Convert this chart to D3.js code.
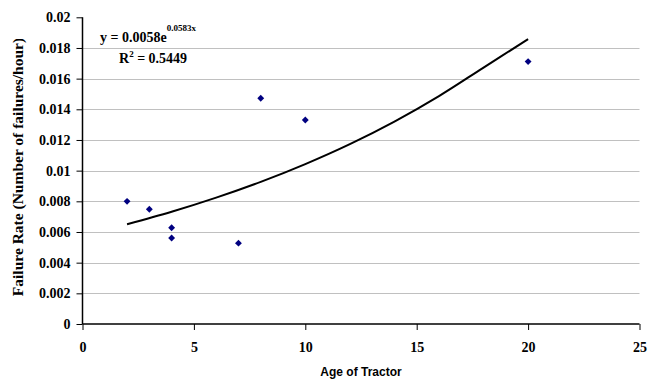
<!DOCTYPE html>
<html>
<head>
<script src="https://d3js.org/d3.v7.min.js"></script>
<style>
  body { margin: 0; background: #fff; }
  svg { display: block; }
  .grid line { stroke: #c0c0c0; stroke-width: 1; }
</style>
</head>
<body>
<div id="chart"></div>
<script>
// tractor age vs failure rate
const ages = [2, 3, 4, 4, 7, 8, 10, 20];
const rates = [0.0080, 0.00748, 0.00628, 0.00561, 0.00527, 0.01472, 0.0133, 0.01711];

// exponential trend line as drawn
const trendAges = [2, 4, 6, 8, 10, 12, 14, 16, 18, 20];
const trendRates = [0.00651, 0.00732, 0.00824, 0.00927, 0.01043, 0.01173, 0.01320, 0.01486, 0.01672, 0.01858];

const xTicks = [0, 5, 10, 15, 20, 25];
const yTicks = [0, 0.002, 0.004, 0.006, 0.008, 0.01, 0.012, 0.014, 0.016, 0.018, 0.02];

const serif = "'Liberation Serif', 'Times New Roman', serif";
const W = 648, H = 379;
const svg = d3.select("#chart").append("svg").attr("width", W).attr("height", H);

const x = d3.scaleLinear().domain([0, 25]).range([82.5, 639.5]);
const y = d3.scaleLinear().domain([0, 0.02]).range([324, 17.3]);

// gridlines
svg.append("g").attr("class", "grid")
  .selectAll("line").data(yTicks.filter(d => d > 0 && d < 0.02)).join("line")
  .attr("x1", x(0)).attr("x2", x(25))
  .attr("y1", d => Math.round(y(d)) + 0.5).attr("y2", d => Math.round(y(d)) + 0.5);

// axes
const yAxis = svg.append("g")
  .attr("transform", `translate(${x(0)},0)`)
  .call(d3.axisLeft(y).tickValues(yTicks).tickFormat(d => String(+d.toFixed(3))).tickSize(6).tickPadding(6));
const xAxis = svg.append("g")
  .attr("transform", `translate(0,${y(0)})`)
  .call(d3.axisBottom(x).tickValues(xTicks).tickSize(6).tickPadding(12));

[xAxis, yAxis].forEach(a => {
  a.attr("font-family", null).attr("font-size", null);
  a.select(".domain").attr("stroke", "#000").attr("stroke-width", 1.5);
  a.selectAll(".tick line").attr("stroke", "#000").attr("stroke-width", 1);
  a.selectAll(".tick text")
    .style("font-family", serif).style("font-weight", "bold").style("font-size", "14px").attr("fill", "#000");
});
xAxis.select(".domain").attr("d", `M${x(0)},0H${x(25)}`);
yAxis.select(".domain").attr("d", `M0,${y(0)}V${y(0.02)}`);

// trend line
const line = d3.line().x((d, i) => x(trendAges[i])).y(d => y(d)).curve(d3.curveMonotoneX);
svg.append("path").datum(trendRates)
  .attr("d", line)
  .attr("fill", "none").attr("stroke", "#000").attr("stroke-width", 2);

// points
svg.append("g").selectAll("path").data(ages).join("path")
  .attr("transform", (d, i) => `translate(${x(d)},${y(rates[i])})`)
  .attr("d", d3.symbol().type(d3.symbolDiamond2).size(30))
  .attr("fill", "#000080");

// equation labels
const eq = svg.append("text")
  .attr("x", 100).attr("y", 42)
  .style("font-family", serif).style("font-weight", "bold").style("font-size", "14px");
eq.append("tspan").text("y = 0.0058e");
eq.append("tspan").style("font-size", "9px").attr("dy", -11).text("0.0583x");

const r2 = svg.append("text")
  .attr("x", 119).attr("y", 63)
  .style("font-family", serif).style("font-weight", "bold").style("font-size", "14px");
r2.append("tspan").text("R");
r2.append("tspan").style("font-size", "9px").attr("dy", -6).text("2");
r2.append("tspan").attr("dy", 6).text(" = 0.5449");

// axis titles (the top of the y title is cut off in the original)
svg.append("clipPath").attr("id", "clipTop")
  .append("rect").attr("x", 0).attr("y", 39).attr("width", 40).attr("height", 340);
svg.append("g").attr("clip-path", "url(#clipTop)")
  .append("text")
  .attr("transform", "translate(23,167) rotate(-90)")
  .attr("text-anchor", "middle")
  .style("font-family", serif).style("font-weight", "bold").style("font-size", "15.5px")
  .text("Failure Rate (Number of failures/hour)");

svg.append("text")
  .attr("x", x(12.5)).attr("y", 376)
  .attr("text-anchor", "middle")
  .style("font-family", "'Liberation Sans', Arial, sans-serif").style("font-weight", "bold").style("font-size", "12px")
  .text("Age of Tractor");
</script>
</body>
</html>
